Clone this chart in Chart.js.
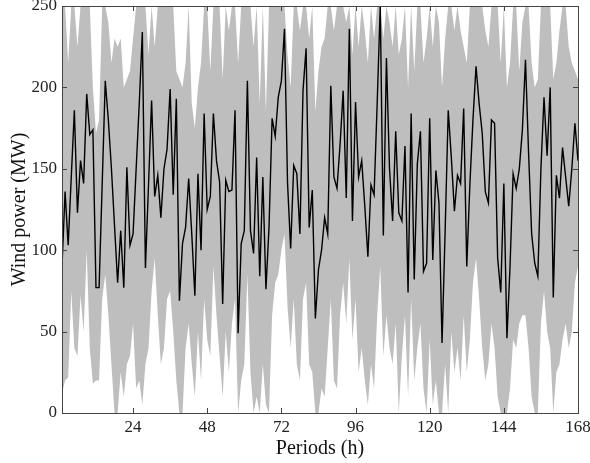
<!DOCTYPE html>
<html>
<head>
<meta charset="utf-8">
<script src="https://cdn.jsdelivr.net/npm/chart.js@4"></script>
<style>
  html, body { margin: 0; padding: 0; background: #fff; }
  #wrap { width: 590px; height: 463px; }
</style>
</head>
<body>
<div id="wrap"><canvas id="windChart" width="590" height="463"></canvas></div>
<script>
// hours of the week
const hours = Array.from({ length: 168 }, (_, i) => i + 1);

// forecast wind power (MW), black line
const power = [
  90, 136, 103, 145, 186, 123, 155, 141, 196, 171, 174, 77, 77, 140, 204, 180, 150, 115, 80, 112,
  77, 151, 103, 110, 150, 190, 234, 89, 140, 192, 133, 146, 120, 150, 162, 199, 134, 193, 69, 104,
  114, 144, 110, 72, 147, 100, 184, 125, 133, 184, 155, 142, 67, 143, 136, 137, 186, 49, 104, 112,
  204, 112, 98, 157, 84, 145, 76, 114, 181, 170, 194, 204, 236, 141, 101, 152, 147, 110, 198, 224,
  114, 137, 58, 88, 100, 120, 110, 201, 145, 138, 165, 198, 132, 236, 118, 191, 145, 155, 127, 96,
  140, 134, 190, 250, 109, 218, 150, 118, 173, 123, 118, 164, 74, 184, 82, 153, 173, 87, 92, 181,
  94, 149, 129, 43, 112, 186, 157, 124, 146, 141, 187, 90, 140, 180, 213, 190, 172, 136, 129, 180,
  178, 95, 74, 141, 46, 90, 147, 138, 150, 174, 217, 160, 110, 92, 84, 150, 194, 158, 200, 71,
  146, 132, 163, 145, 127, 150, 178, 155
];

// upper bound of the grey band (MW)
const upper = [
  250, 250, 215, 250, 250, 225, 250, 250, 250, 250, 200, 172, 180, 250, 250, 240, 215, 230, 225, 230,
  200, 205, 210, 230, 250, 250, 250, 250, 220, 250, 225, 250, 250, 250, 250, 250, 250, 210, 205, 200,
  215, 250, 190, 175, 200, 215, 250, 250, 210, 250, 250, 250, 205, 250, 235, 250, 250, 215, 250, 250,
  250, 250, 225, 250, 190, 250, 185, 250, 250, 250, 250, 250, 250, 220, 200, 250, 250, 235, 250, 250,
  230, 250, 185, 210, 225, 230, 250, 250, 235, 250, 250, 250, 240, 250, 220, 250, 225, 250, 235, 215,
  250, 230, 250, 250, 230, 250, 240, 225, 250, 220, 230, 250, 200, 250, 210, 250, 250, 215, 230, 250,
  225, 250, 240, 200, 230, 250, 250, 235, 250, 235, 225, 215, 250, 250, 250, 250, 250, 235, 225, 250,
  250, 250, 215, 250, 200, 215, 250, 250, 210, 240, 250, 250, 215, 200, 205, 250, 250, 250, 250, 205,
  215, 235, 250, 250, 225, 215, 210, 205
];

// lower bound of the grey band (MW)
const lower = [
  12, 20, 22, 75, 40, 35, 72, 50, 100, 40, 18, 20, 20, 70, 85, 60, 30, 0, 0, 25,
  10, 30, 35, 55, 15, 20, 5, 30, 40, 75, 95, 60, 30, 40, 70, 75, 50, 20, 0, 0,
  40, 55, 30, 10, 50, 20, 70, 45, 35, 90, 60, 35, 10, 50, 25, 55, 70, 0, 20, 30,
  85, 25, 0, 10, 0, 30, 5, 0, 60, 80, 85, 100, 110, 65, 40, 70, 30, 20, 70, 80,
  30, 25, 0, 0, 15, 10, 40, 70, 20, 15, 60, 80, 55, 95, 45, 70, 25, 40, 20, 5,
  30, 15, 60, 90, 35, 60, 40, 30, 55, 0, 35, 60, 10, 70, 20, 40, 55, 15, 0, 45,
  5, 20, 0, 0, 30, 0, 50, 25, 40, 20, 60, 25, 45, 80, 95, 70, 40, 20, 30, 55,
  40, 10, 0, 0, 0, 15, 45, 40, 55, 60, 60, 40, 10, 0, 0, 55, 75, 50, 40, 0,
  25, 30, 45, 55, 40, 50, 80, 90
];

const xTicks = [24, 48, 72, 96, 120, 144, 168];
const yTicks = [0, 50, 100, 150, 200, 250];

const toPoints = arr => arr.map((v, i) => ({ x: hours[i], y: v }));

// MATLAB-like box with inward tick marks
const boxTicks = {
  id: 'boxTicks',
  afterDraw(chart) {
    const { ctx, chartArea: a, scales } = chart;
    const len = 5;
    ctx.save();
    ctx.strokeStyle = '#444';
    ctx.lineWidth = 1;
    ctx.beginPath();
    yTicks.forEach(v => {
      const y = Math.round(scales.y.getPixelForValue(v)) + 0.5;
      ctx.moveTo(a.left, y); ctx.lineTo(a.left + len, y);
      ctx.moveTo(a.right, y); ctx.lineTo(a.right - len, y);
    });
    xTicks.forEach(v => {
      const x = Math.round(scales.x.getPixelForValue(v)) + 0.5;
      ctx.moveTo(x, a.bottom); ctx.lineTo(x, a.bottom - len);
      ctx.moveTo(x, a.top); ctx.lineTo(x, a.top + len);
    });
    ctx.stroke();
    ctx.strokeRect(Math.round(a.left) + 0.5, Math.round(a.top) + 0.5,
      Math.round(a.right - a.left), Math.round(a.bottom - a.top));
    ctx.restore();
  }
};

window.onload = function() {
  const ctx = document.getElementById('windChart').getContext('2d');
  const serif = "'Liberation Serif', 'DejaVu Serif', serif";

  new Chart(ctx, {
    type: 'line',
    data: {
      datasets: [
        {
          label: 'Wind power',
          data: toPoints(power),
          borderColor: '#000',
          borderWidth: 1.4,
          pointRadius: 0,
          fill: false,
          tension: 0
        },
        {
          label: 'Upper',
          data: toPoints(upper),
          borderWidth: 0,
          borderColor: 'rgba(0,0,0,0)',
          backgroundColor: '#bebebe',
          pointRadius: 0,
          fill: '+1',
          tension: 0
        },
        {
          label: 'Lower',
          data: toPoints(lower),
          borderWidth: 0,
          borderColor: 'rgba(0,0,0,0)',
          pointRadius: 0,
          fill: false,
          tension: 0
        }
      ]
    },
    options: {
      responsive: false,
      animation: false,
      layout: { padding: { top: 6, right: 12, left: 0, bottom: 0 } },
      plugins: {
        legend: { display: false },
        tooltip: { enabled: false }
      },
      scales: {
        x: {
          type: 'linear',
          min: 1,
          max: 168,
          afterBuildTicks: scale => { scale.ticks = xTicks.map(v => ({ value: v })); },
          afterFit: scale => { scale.height = 50; scale.paddingLeft = 0; scale.paddingRight = 0; },
          grid: { display: false, drawTicks: false },
          border: { display: false },
          ticks: { color: '#222', font: { family: serif, size: 17 }, padding: 4, maxRotation: 0 },
          title: { display: true, text: 'Periods (h)', color: '#111', font: { family: serif, size: 20 }, padding: { top: 0, bottom: 2 } }
        },
        y: {
          min: 0,
          max: 250,
          afterBuildTicks: scale => { scale.ticks = yTicks.map(v => ({ value: v })); },
          afterFit: scale => { scale.width = 62; scale.paddingTop = 0; scale.paddingBottom = 0; },
          grid: { display: false, drawTicks: false },
          border: { display: false },
          ticks: { color: '#222', font: { family: serif, size: 17 }, padding: 5 },
          title: { display: true, text: 'Wind power (MW)', color: '#111', font: { family: serif, size: 20 }, padding: { top: 8, bottom: 0 } }
        }
      }
    },
    plugins: [boxTicks]
  });
};
</script>
</body>
</html>
